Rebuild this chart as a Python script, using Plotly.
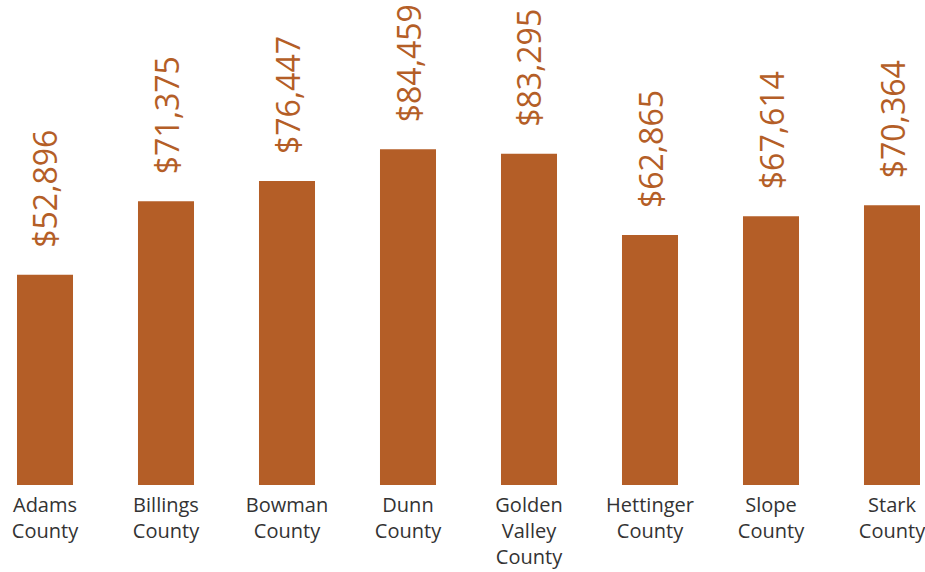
import plotly.graph_objects as go

categories = ["Adams<br>County", "Billings<br>County", "Bowman<br>County", "Dunn<br>County",
              "Golden<br>Valley<br>County", "Hettinger<br>County", "Slope<br>County", "Stark<br>County"]
values = [52896, 71375, 76447, 84459, 83295, 62865, 67614, 70364]
labels = ["${:,}".format(v) for v in values]

color = "#B45E27"
fig = go.Figure(go.Bar(x=categories, y=values, marker_color=color, marker_line_width=0,
                       width=0.463, hoverinfo="skip"))

for c, v, t in zip(categories, values, labels):
    fig.add_annotation(x=c, y=v, text=t, textangle=-90, showarrow=False,
                       xanchor="center", yanchor="bottom", yshift=25,
                       font=dict(family="Open Sans", size=32, color=color, weight=500))

fig.update_layout(
    width=925, height=572,
    margin=dict(l=17, r=5, t=0, b=87),
    plot_bgcolor="white", paper_bgcolor="white",
    showlegend=False,
    font=dict(family="Open Sans", size=20, color="#333333"),
    xaxis=dict(range=[-0.2314, 7.2314], showgrid=False, showline=False, ticks="",
               ticklabelstandoff=6, tickfont=dict(size=20, color="#333333")),
    yaxis=dict(range=[0, 122000], visible=False, showgrid=False),
)
fig.write_html("out.html", config={"displayModeBar": False},
               post_script="document.body.style.margin='0';document.body.style.overflow='hidden';")
